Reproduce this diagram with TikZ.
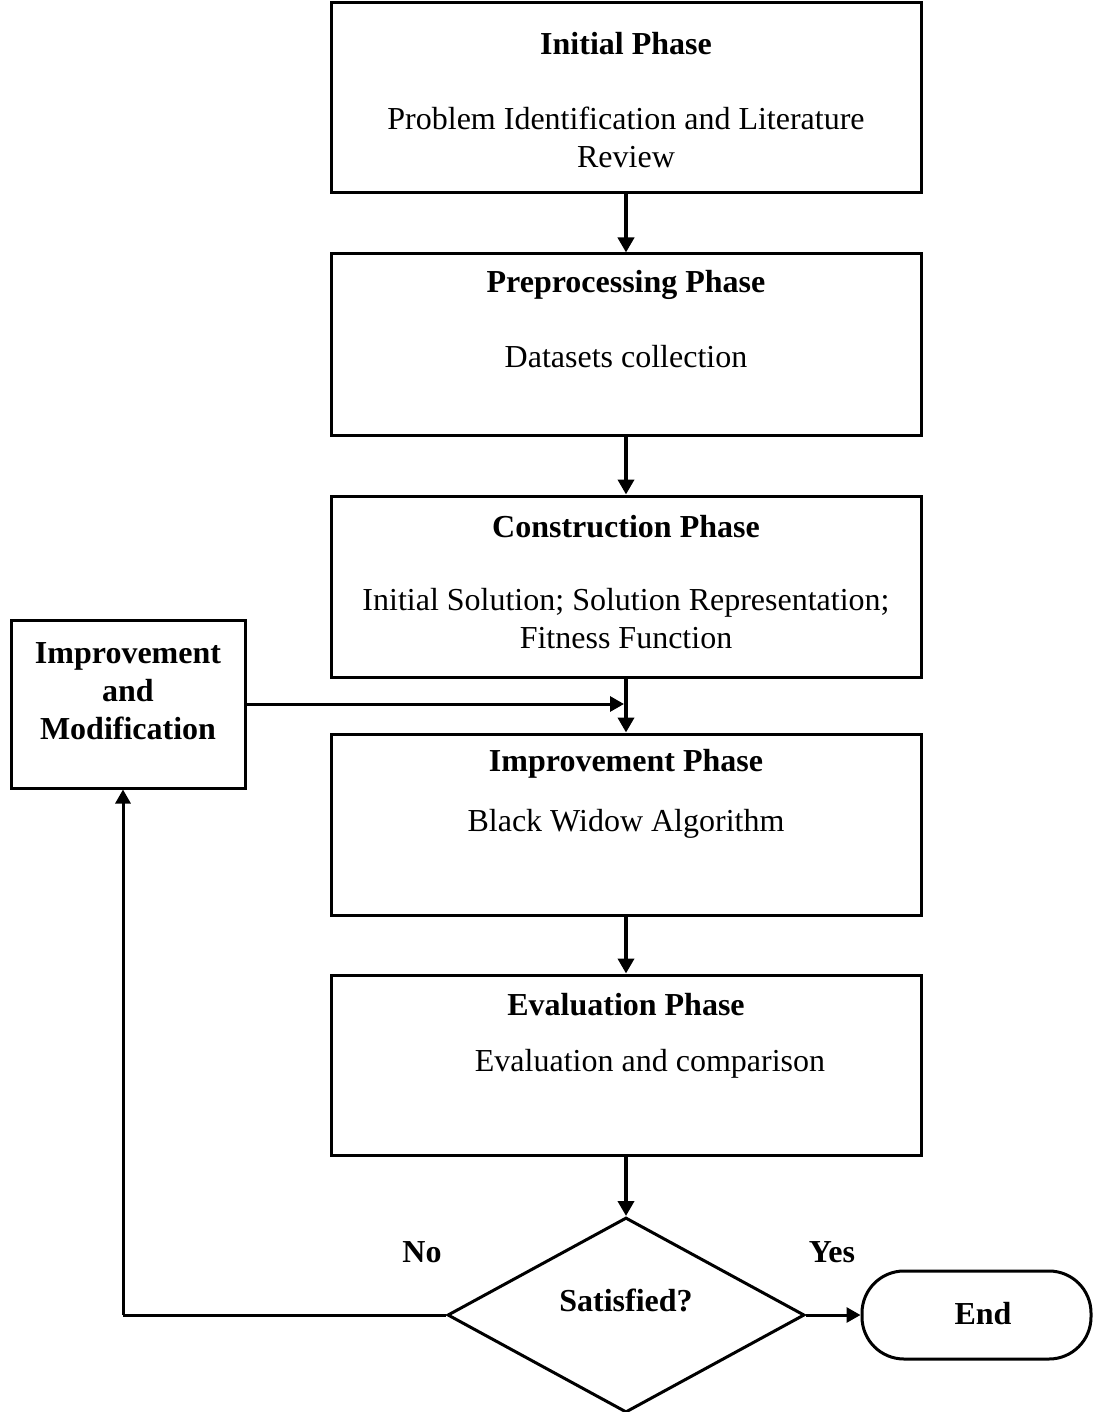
\documentclass[tikz,border=0pt]{standalone}
\usepackage{fontspec}
\setmainfont{Liberation Serif}
\usetikzlibrary{arrows.meta,shapes.geometric}
\begin{document}
\begin{tikzpicture}[x=1pt,y=-1pt,
  box/.style={draw,line width=3pt,rectangle,minimum width=590pt,inner sep=0pt},
  txt/.style={inner sep=0pt,align=center,font=\fontsize{32}{38}\selectfont},
  head/.style={txt,font=\fontsize{32}{38}\selectfont\bfseries},
  arr/.style={line width=4pt,-{Triangle[length=15pt,width=16pt]}},
  harr/.style={line width=3pt,-{Triangle[length=14pt,width=15pt]}},
  link/.style={line width=3pt}]
\useasboundingbox (0,0) rectangle (1093,1412);

% phase boxes
\node[box,minimum height=190pt] (b1) at (626,98) {};
\node[box,minimum height=181pt] (b2) at (626,344.5) {};
\node[box,minimum height=181pt] (b3) at (626,586.5) {};
\node[box,minimum height=181pt] (b4) at (626,824.5) {};
\node[box,minimum height=180pt] (b5) at (626,1065) {};

\node[head] (t1) at (626,44) {Initial Phase};
\node[txt] (s1) at (626,137) {Problem Identification and Literature\\Review};
\node[head] (t2) at (626,285) {Preprocessing Phase};
\node[txt] (s2) at (626,357) {Datasets collection};
\node[head] (t3) at (626,527) {Construction Phase};
\node[txt] (s3) at (626,619) {Initial Solution; Solution Representation;\\Fitness Function};
\node[head] (t4) at (626,764) {Improvement Phase};
\node[txt] (s4) at (626,824) {Black Widow Algorithm};
\node[head] (t5) at (626,1005) {Evaluation Phase};
\node[txt] (s5) at (650,1064) {Evaluation and comparison};

% side box
\node[draw,line width=3pt,minimum width=234pt,minimum height=168pt,inner sep=0pt] (m) at (128,704) {};
\node[head] (mt) at (128,691) {Improvement\\and\\Modification};

% decision and terminal
\node[draw,line width=3pt,diamond,minimum width=357pt,minimum height=195pt,inner sep=0pt] (d) at (626,1315) {};
\node[head] (dt) at (626,1300) {Satisfied?};
\node[draw,line width=3pt,rectangle,rounded corners=42pt,minimum width=229pt,minimum height=88pt,inner sep=0pt] (e) at (976.5,1315) {};
\node[head] (et) at (983,1314) {End};

\node[head] (no) at (422,1252) {No};
\node[head] (yes) at (832,1252) {Yes};

% connectors
\draw[arr] (b1.south) -- (b2.north);
\draw[arr] (b2.south) -- (b3.north);
\draw[arr] (b3.south) -- (b4.north);
\draw[arr] (b4.south) -- (b5.north);
\draw[arr] (b5.south) -- (d.north);
\draw[harr] (m.east) -- ([xshift=-2pt]m.east -| b4.north);
\draw[harr] (d.east) -- (e.west);
\coordinate (c) at (123,1315);
\draw[link] (d.west) -- (c);
\draw[harr] (c) -- (c |- m.south);
\end{tikzpicture}
\end{document}
